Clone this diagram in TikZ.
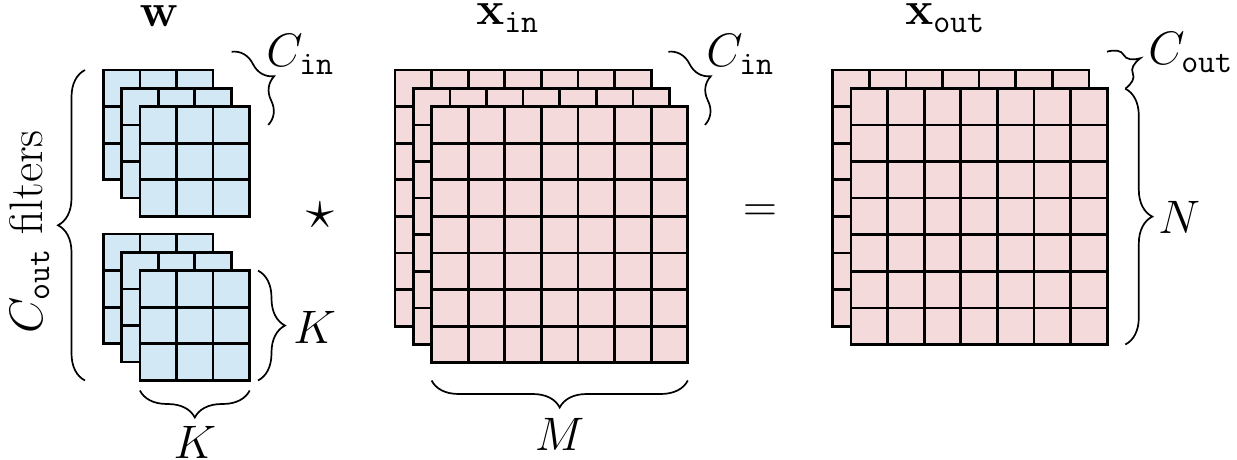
\RequirePackage{fix-cm}
\documentclass[tikz,border=0pt]{standalone}
\usetikzlibrary{decorations.pathreplacing}
\definecolor{fblue}{RGB}{210,232,245}
\definecolor{fpink}{RGB}{245,218,219}
\def\cs{36.6}
\tikzset{
  gridline/.style={line width=1.35pt, line cap=rect, black},
  brc/.style={decorate, decoration={brace, amplitude=13.5pt}, line width=0.85pt},
  lbl/.style={font=\fontsize{23.5}{28}\selectfont, inner sep=0pt},
}
\newcommand\cellgrid[5]{%
  \fill[#1] (#2,#3) rectangle ++({#4*\cs},{#5*\cs});
  \foreach \i in {0,...,#4} \draw[gridline] ({#2+\i*\cs},#3) -- ++(0,{#5*\cs});
  \foreach \j in {0,...,#5} \draw[gridline] (#2,{#3+\j*\cs}) -- ++({#4*\cs},0);
}
\begin{document}
\begin{tikzpicture}[x=0.5pt,y=-0.5pt]
\useasboundingbox (0,0) rectangle (1237,460);
% filters (top)
\cellgrid{fblue}{103.3}{70}{3}{3}
\cellgrid{fblue}{121.6}{88.3}{3}{3}
\cellgrid{fblue}{139.9}{106.6}{3}{3}
% filters (bottom)
\cellgrid{fblue}{103.3}{234}{3}{3}
\cellgrid{fblue}{121.6}{252.3}{3}{3}
\cellgrid{fblue}{139.9}{270.6}{3}{3}
% x_in
\cellgrid{fpink}{395}{70}{7}{7}
\cellgrid{fpink}{413.3}{88.3}{7}{7}
\cellgrid{fpink}{431.6}{106.6}{7}{7}
% x_out
\cellgrid{fpink}{832.7}{70}{7}{7}
\cellgrid{fpink}{851}{88.3}{7}{7}

% brace end points
\coordinate (lbA) at (85,380.5);   \coordinate (lbB) at (85,70);
\coordinate (kA) at (258,270.6);   \coordinate (kB) at (258,380.5);
\coordinate (kbA) at (249.7,390.5); \coordinate (kbB) at (139.9,390.5);
\coordinate (ciA) at (231.7,51.7); \coordinate (ciB) at (268.3,125);
\coordinate (cixA) at (668.3,51.7); \coordinate (cixB) at (705,125);
\coordinate (mA) at (687.8,380.5); \coordinate (mB) at (431.6,380.5);
\coordinate (coA) at (1107,51.7);  \coordinate (coB) at (1125.3,88.7);
\coordinate (nB) at (1125.3,344.5);

\draw[brc] (lbA) -- (lbB);
\draw[brc] (kA) -- (kB);
\draw[brc] (kbA) -- (kbB);
\draw[brc] (ciA) -- (ciB);
\draw[brc] (cixA) -- (cixB);
\draw[brc] (mA) -- (mB);
\draw[brc] (coA) -- (coB);
\draw[brc] (coB) -- (nB);

% labels
\node[lbl, anchor=base] (w) at (159,27) {$\mathbf{w}$};
\node[lbl, anchor=base west] (xin) at (476,25) {$\mathbf{x}_{\mathtt{in}}$};
\node[lbl, anchor=base west] (xout) at (905,25) {$\mathbf{x}_{\mathtt{out}}$};
\node[lbl, anchor=base west] (cin1) at (266,67) {$C_{\mathtt{in}}$};
\node[lbl, anchor=base west] (cin2) at (706,67) {$C_{\mathtt{in}}$};
\node[lbl, anchor=base west] (cout) at (1148,65) {$C_{\mathtt{out}}$};
\node[lbl, anchor=base west] (n) at (1158,233) {$N$};
\node[lbl, anchor=base west] (kr) at (293,343) {$K$};
\node[lbl, anchor=base] (kb) at (195,458) {$K$};
\node[lbl, anchor=base] (m) at (559.5,450) {$M$};
\node[lbl, scale=1.2] (star) at (320.7,215) {$\star$};
\node[lbl] (eq) at (760,213) {$=$};
\node[lbl, rotate=90, anchor=base] (cf) at (42,232) {$C_{\mathtt{out}}$ filters};
\end{tikzpicture}
\end{document}
